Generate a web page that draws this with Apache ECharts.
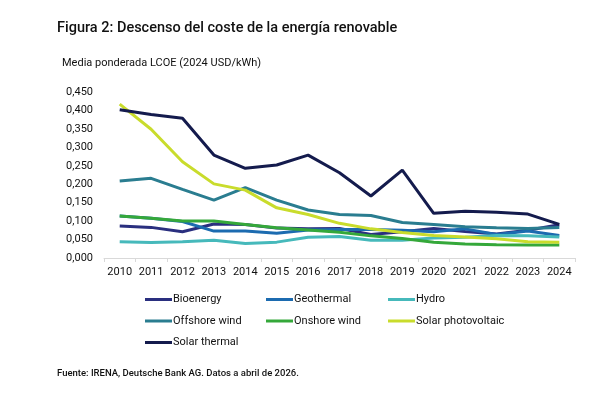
<!DOCTYPE html>
<html>
<head>
<meta charset="utf-8">
<script src="https://cdn.jsdelivr.net/npm/echarts@6/dist/echarts.min.js"></script>
<style>
    html, body {margin: 0; padding: 0; background: #fff;}
    #chart {width: 599px; height: 408px;}
</style>
</head>
<body>
<div id="chart"></div>
<script>
// datos (USD/kWh)
var years = ['2010', '2011', '2012', '2013', '2014', '2015', '2016', '2017', '2018', '2019', '2020', '2021', '2022', '2023', '2024'];
var bioenergy = [0.087, 0.083, 0.071, 0.092, 0.091, 0.081, 0.079, 0.080, 0.064, 0.071, 0.080, 0.072, 0.065, 0.075, 0.090];
var geothermal = [0.114, 0.108, 0.099, 0.073, 0.073, 0.067, 0.076, 0.077, 0.077, 0.075, 0.071, 0.079, 0.064, 0.073, 0.061];
var hydro = [0.044, 0.042, 0.044, 0.048, 0.039, 0.043, 0.056, 0.058, 0.048, 0.048, 0.054, 0.056, 0.061, 0.060, 0.057];
var offshoreWind = [0.209, 0.216, 0.186, 0.157, 0.191, 0.157, 0.130, 0.118, 0.115, 0.096, 0.091, 0.085, 0.082, 0.080, 0.083];
var onshoreWind = [0.114, 0.108, 0.100, 0.100, 0.091, 0.082, 0.076, 0.070, 0.060, 0.053, 0.043, 0.038, 0.036, 0.035, 0.035];
var solarPV = [0.417, 0.349, 0.261, 0.201, 0.184, 0.136, 0.118, 0.094, 0.079, 0.069, 0.061, 0.057, 0.052, 0.044, 0.043];
var solarThermal = [0.402, 0.389, 0.379, 0.279, 0.243, 0.252, 0.279, 0.231, 0.168, 0.238, 0.121, 0.127, 0.124, 0.119, 0.091];

var seriesDefs = [
    {name: 'Bioenergy', data: bioenergy, color: '#2a2f7f'},
    {name: 'Geothermal', data: geothermal, color: '#1c6bb0'},
    {name: 'Hydro', data: hydro, color: '#46b9bb'},
    {name: 'Offshore wind', data: offshoreWind, color: '#2a7d90'},
    {name: 'Onshore wind', data: onshoreWind, color: '#35a83a'},
    {name: 'Solar photovoltaic', data: solarPV, color: '#c9dc2c'},
    {name: 'Solar thermal', data: solarThermal, color: '#141b4d'}
];

var font = 'Roboto';
var legendBase = {
    orient: 'vertical',
    top: 294,
    padding: 0,
    icon: 'rect',
    itemWidth: 27,
    itemHeight: 3,
    itemGap: 10.5,
    textStyle: {fontFamily: font, fontSize: 11, color: '#111', padding: [0, 0, 0, -4]}
};
function legendCol(left, names) {
    return Object.assign({}, legendBase, {left: left, data: names});
}

var chart = echarts.init(document.getElementById('chart'));
chart.setOption({
    animation: false,
    title: [
        {
            text: 'Figura 2: Descenso del coste de la energía renovable',
            left: 52, top: 16, padding: 5,
            textStyle: {fontFamily: font, fontSize: 14.5, fontWeight: 500, color: '#111'}
        },
        {
            text: 'Media ponderada LCOE (2024 USD/kWh)',
            left: 57, top: 53,
            textStyle: {fontFamily: font, fontSize: 11, fontWeight: 'normal', color: '#111'}
        },
        {
            text: 'Fuente: IRENA, Deutsche Bank AG. Datos a abril de 2026.',
            left: 52, top: 364,
            textStyle: {fontFamily: font, fontSize: 9.5, fontWeight: 500, color: '#111'}
        }
    ],
    legend: [
        legendCol(145, ['Bioenergy', 'Offshore wind', 'Solar thermal']),
        legendCol(266, ['Geothermal', 'Onshore wind']),
        legendCol(388, ['Hydro', 'Solar photovoltaic'])
    ],
    grid: {left: 104, right: 24, top: 92, bottom: 150},
    xAxis: {
        type: 'category',
        data: years,
        boundaryGap: true,
        axisLine: {lineStyle: {color: '#d9d9d9'}},
        axisTick: {show: true, length: 4, lineStyle: {color: '#d9d9d9'}},
        axisLabel: {fontFamily: font, fontSize: 11, color: '#111', margin: 9, interval: 0}
    },
    yAxis: {
        type: 'value',
        min: 0,
        max: 0.45,
        interval: 0.05,
        axisLine: {show: false},
        axisTick: {show: false},
        splitLine: {show: false},
        axisLabel: {
            fontFamily: font, fontSize: 11, color: '#111', margin: 11,
            formatter: function (v) { return v.toFixed(3).replace('.', ','); }
        }
    },
    series: seriesDefs.map(function (s) {
        return {
            name: s.name,
            type: 'line',
            data: s.data,
            color: s.color,
            showSymbol: false,
            symbol: 'none',
            lineStyle: {width: 3, color: s.color}
        };
    })
});
</script>
</body>
</html>
